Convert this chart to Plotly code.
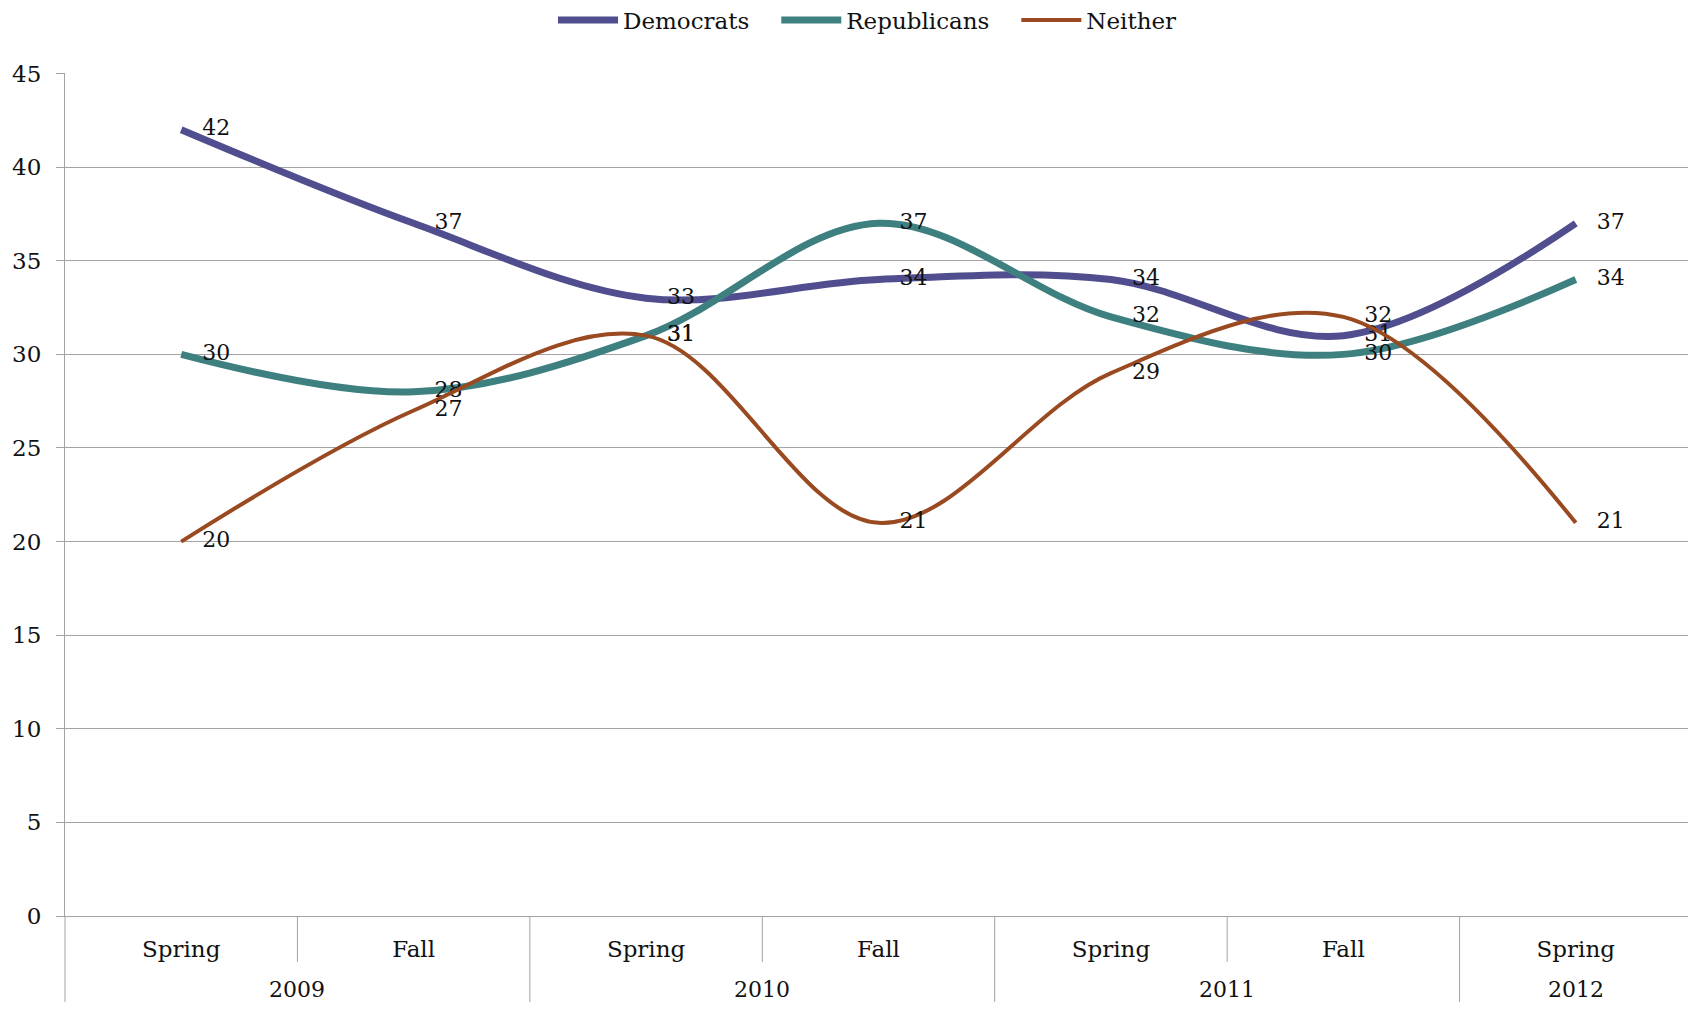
import plotly.graph_objects as go

years = ["2009", "2009", "2010", "2010", "2011", "2011", "2012"]
seasons = ["Spring", "Fall", "Spring", "Fall", "Spring", "Fall", "Spring"]
democrats = [42, 37, 33, 34, 34, 31, 37]
republicans = [30, 28, 31, 37, 32, 30, 34]
neither = [20, 27, 31, 21, 29, 32, 21]

FONT = "DejaVu Serif"
GRID = "#A3A3A3"
series = [
    ("Democrats", democrats, "#504E8E", 7),
    ("Republicans", republicans, "#3E7F80", 7),
    ("Neither", neither, "#9A4A20", 4),
]

W, H = 1688, 994
L, R, T, B = 57, 4, 65, 86
PH = H - T - B

n = len(seasons)
xpos = list(range(n))

fig = go.Figure()
for name, vals, color, w in series:
    fig.add_trace(go.Scatter(
        x=xpos, y=vals, name=name + "\u00a0\u00a0\u00a0", mode="lines+text",
        line=dict(color=color, width=w, shape="spline", smoothing=1.0),
        text=["\u00a0\u00a0\u00a0" + str(v) for v in vals], textposition="middle right",
        textfont=dict(family=FONT, size=22, color="#111111"),
        cliponaxis=False,
    ))

# separators below the axis and year labels
shapes = []
annotations = []
start = 0
for i in range(n + 1):
    if i == 0 or i == n or years[i] != years[i - 1]:
        y1 = -(B + 10) / PH
        if i > 0:
            annotations.append(dict(
                text=years[i - 1], xref="paper", yref="paper",
                x=((start + i) / 2) / n, y=-73 / PH, xanchor="center", yanchor="middle",
                showarrow=False, font=dict(family=FONT, size=22, color="#111111")))
            start = i
    else:
        y1 = -46 / PH
    shapes.append(dict(type="line", xref="paper", yref="paper", x0=i / n, x1=i / n,
                       y0=0, y1=y1, line=dict(color=GRID, width=1)))

fig.update_layout(
    width=W, height=H,
    paper_bgcolor="white", plot_bgcolor="white",
    margin=dict(l=L, r=R, t=T, b=B, autoexpand=False),
    font=dict(family=FONT, size=22, color="#111111"),
    legend=dict(orientation="h", x=0.5, xanchor="center", y=1 - 12 / H, yanchor="middle",
                yref="container", font=dict(family=FONT, size=23),
                traceorder="normal", itemwidth=60),
    shapes=shapes,
    annotations=annotations,
)
fig.update_yaxes(range=[0, 45.03], dtick=5, showgrid=True, gridcolor=GRID, gridwidth=1,
                 showline=True, linecolor=GRID, ticks="outside", ticklen=8,
                 tickcolor=GRID, zeroline=False, tickfont=dict(family=FONT, size=23),
                 ticklabelstandoff=10, automargin=False)
fig.update_xaxes(range=[-0.5, n - 0.5], tickvals=xpos, ticktext=seasons, showline=True,
                 linecolor=GRID, showgrid=False, zeroline=False, automargin=False,
                 tickfont=dict(family=FONT, size=23), ticks="", ticklabelstandoff=12)
fig.write_html("out.html")
